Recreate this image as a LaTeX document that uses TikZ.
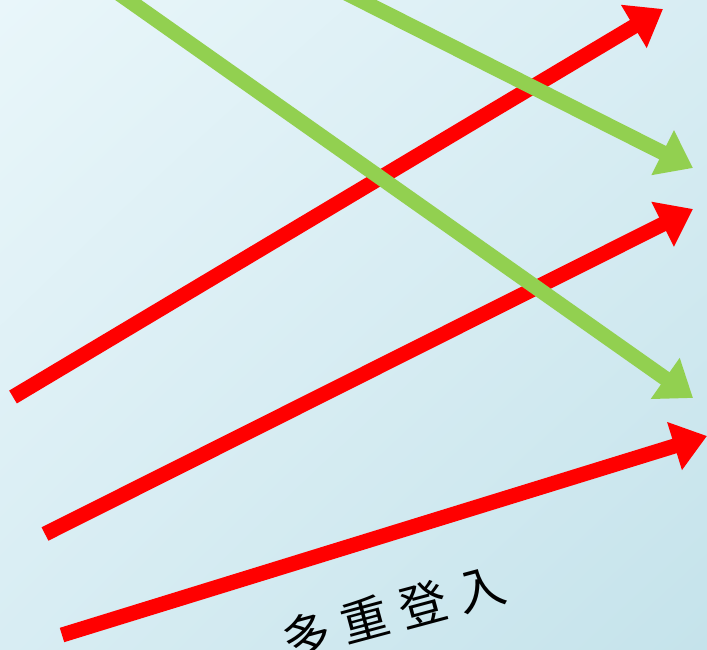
\documentclass[tikz,border=0pt]{standalone}
\usepackage{fontspec}
\newfontfamily\cjk{Noto Sans CJK TC}
\usetikzlibrary{arrows.meta,shadings}
\definecolor{bgA}{RGB}{233,246,250}
\definecolor{bgB}{RGB}{197,227,235}
\definecolor{bgM}{RGB}{216,237,243}
\definecolor{arrred}{RGB}{255,0,0}
\definecolor{arrgreen}{RGB}{146,208,80}
\tikzset{
  redarrow/.style={draw=arrred, line width=15pt, -{Triangle[length=34pt,width=48pt]}},
  greenarrow/.style={draw=arrgreen, line width=15pt, -{Triangle[length=34pt,width=48pt]}},
  labeltext/.style={font=\cjk\fontsize{48}{48}\selectfont, text=black, inner sep=0pt}
}
\begin{document}
\begin{tikzpicture}[x=1pt,y=-1pt]
\shade[upper left=bgA, upper right=bgM, lower left=bgM, lower right=bgB] (0,0) rectangle (707,650);
\useasboundingbox (0,0) rectangle (707,650);
\coordinate (r1s) at (13,397);  \coordinate (r1e) at (663,9);
\coordinate (r2s) at (45,534);  \coordinate (r2e) at (693,209);
\coordinate (r3s) at (62,635);  \coordinate (r3e) at (707,436);
\coordinate (g1s) at (340,-10); \coordinate (g1e) at (693,168);
\coordinate (g2s) at (114,-10); \coordinate (g2e) at (693,398);
\draw[redarrow] (r1s) -- (r1e);
\draw[redarrow] (r2s) -- (r2e);
\draw[redarrow] (r3s) -- (r3e);
\draw[greenarrow] (g1s) -- (g1e);
\draw[greenarrow] (g2s) -- (g2e);
\node[labeltext, rotate=15] (label) at (394,612) {多\hspace{12pt}重\hspace{12pt}登\hspace{12pt}入};
\end{tikzpicture}
\end{document}
